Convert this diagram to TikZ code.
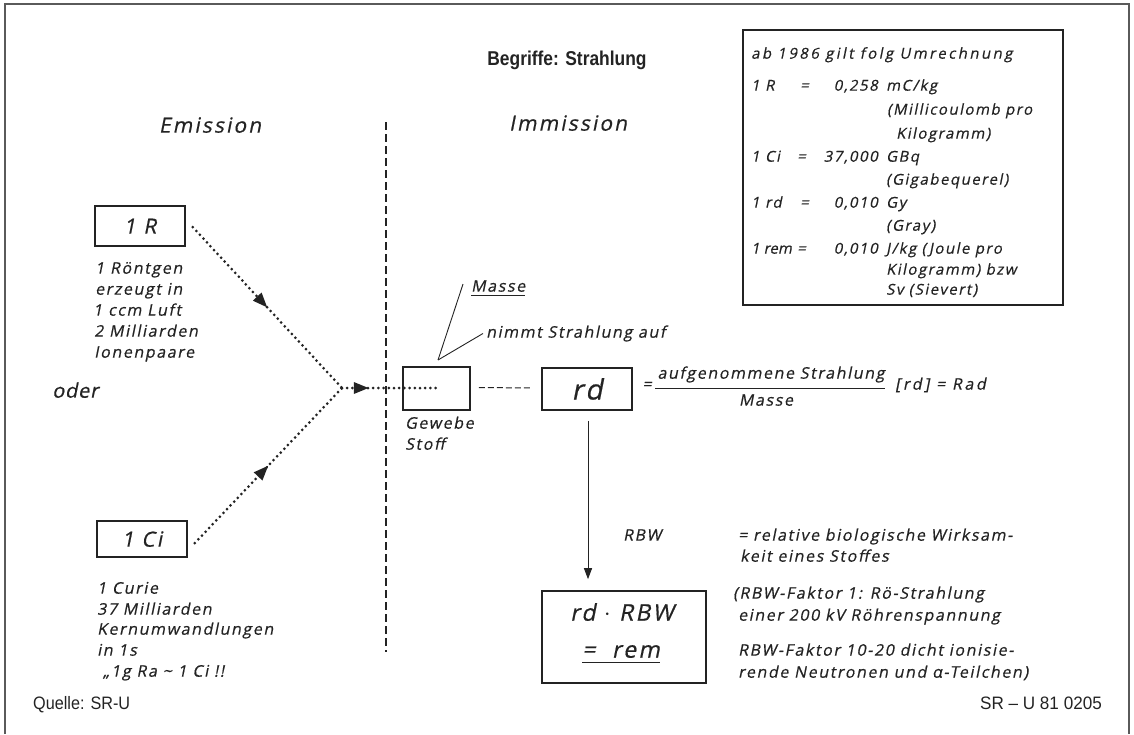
\documentclass[tikz,border=0pt]{standalone}
\usepackage{fontspec}
\setmainfont{Open Sans}
\newfontfamily\stf[LetterSpace=10,AutoFakeSlant=0.2,FakeBold=0.6]{Open Sans}
\newfontfamily\hdf{Liberation Sans}
\usetikzlibrary{arrows.meta,decorations.markings,calc}
\definecolor{ink}{HTML}{232323}
\begin{document}
\begin{tikzpicture}[x=1pt,y=-1pt,
  lbl/.style={font=\stf\itshape\fontsize{16}{16}\selectfont, text=ink, inner sep=0pt, anchor=mid west},
  lblsm/.style={font=\stf\itshape\fontsize{15}{15}\selectfont, text=ink, inner sep=0pt, anchor=mid west},
  lblbig/.style={font=\stf\itshape\fontsize{21}{21}\selectfont, text=ink, inner sep=0pt, anchor=mid},
  framebox/.style={draw=ink, line width=1.6pt, inner sep=0pt},
  dotline/.style={draw=ink, line width=3pt, line cap=round, dash pattern=on 0pt off 5.2pt},
  midarrow/.style={postaction={decorate}, decoration={markings, mark=at position #1 with {\arrow[solid]{Triangle[length=15pt,width=11pt]}}}},
  divider/.style={draw=ink, line width=2pt, dash pattern=on 8pt off 4pt},
  shortdash/.style={draw=ink, line width=1pt, dash pattern=on 6pt off 3pt},
  thinline/.style={draw=ink, line width=0.9pt},
  src/.style={font=\hdf\fontsize{18}{18}\selectfont, text=ink, inner sep=0pt, anchor=mid west},
  ttl/.style={font=\hdf\bfseries\fontsize{20}{20}\selectfont, text=ink, inner sep=0pt}
]
\useasboundingbox (0,0) rectangle (1134,734);
% outer frame
\draw[line width=1.2pt, draw=ink!75] (5,734) -- (5,4) -- (1129,4) -- (1129,734);

% title and headings
\node[ttl] (title) at (567,60) {\scalebox{0.87}[1]{Begriffe: Strahlung}};
\node[lblbig] (emis) at (210,130) {Emission};
\node[lblbig] (immis) at (568,128) {Immission};

% divider
\coordinate (dtop) at (386,122);
\coordinate (dbot) at (386,652);
\draw[divider] (dtop) -- (dbot);

% 1 R
\node[framebox, lblbig, minimum width=90pt, minimum height=40pt] (r) at (140,231) {1 R};
\node[lbl] (r1) at (95,271) {1 Röntgen};
\node[lbl] (r2) at (95,292) {erzeugt in};
\node[lbl] (r3) at (93,313) {1 ccm Luft};
\node[lbl] (r4) at (94,334) {2 Milliarden};
\node[lbl] (r5) at (94,355) {Ionenpaare};
\node[anchor=mid west, inner sep=0pt, text=ink, font=\stf\itshape\fontsize{20}{20}\selectfont] (oder) at (52,395) {\addfontfeature{LetterSpace=4}oder};

% 1 Ci
\node[framebox, lblbig, minimum width=90pt, minimum height=36pt] (ci) at (142,544) {1 Ci};
\node[lbl] (c1) at (97,591) {1 Curie};
\node[lbl] (c2) at (97,612) {37 Milliarden};
\node[lbl] (c3) at (97,632) {Kernumwandlungen};
\node[lbl] (c4) at (97,653) {in 1s};
\node[lbl] (c5) at (103,674) {„1g Ra {\char"7E} 1 Ci !!};

% junction and dotted rays
\coordinate (J) at (342,388);
\coordinate (gin) at (438,388);
\draw[dotline, midarrow=0.5] ($(r.east)+(7,1)$) -- (J);
\draw[dotline, midarrow=0.5] ($(ci.east)+(7,4)$) -- (J);
\draw[dotline, midarrow=0.28] (J) -- (gin);

% Gewebe box
\node[framebox, minimum width=67pt, minimum height=43pt] (gew) at (436.5,388.5) {};
\node[lbl] (gew1) at (405,426) {Gewebe};
\node[lbl] (gew2) at (405,447) {Stoff};
\node[lbl] (masse) at (471,289) {Masse};
\draw[thinline] ($(masse.base west)+(0,4)$) -- ($(masse.base east)+(0,4)$);
\node[lbl] (nimmt) at (486,335) {nimmt Strahlung auf};
\coordinate (gj) at (438,360);
\draw[thinline] (gj) -- ($(masse.west)+(-8,-2)$);
\draw[thinline] (gj) -- ($(nimmt.west)+(-3,0)$);

% rd box
\node[framebox, font=\stf\itshape\fontsize{28}{28}\selectfont, text=ink, minimum width=90pt, minimum height=42pt] (rd) at (587,389) {rd};
\draw[shortdash] (gew.east) ++(8,-1) coordinate (ds) (ds) -- ($(rd.west)+(-10,-1)$);

% formula
\node[lbl, anchor=mid] (eq) at (647,387) {=};
\node[lbl, anchor=mid] (num) at (771,376) {aufgenommene Strahlung};
\node[lbl, anchor=mid] (den) at (766,403) {Masse};
\coordinate (fl1) at (655,388);
\coordinate (fl2) at (885,388);
\draw[thinline] (fl1) -- (fl2);
\node[lbl] (rad) at (895,387) {\addfontfeature{LetterSpace=16}[rd] = Rad};

% conversion box
\node[framebox, minimum width=320pt, minimum height=275pt] (conv) at (903,167.5) {};
\node[lblsm] (k0) at (751,56) {\addfontfeature{LetterSpace=16}ab 1986 gilt folg Umrechnung};
\node[lblsm] (k1a) at (751,88) {1 R};
\node[lblsm] (k1b) at (800,88) {=};
\node[lblsm, anchor=mid east] (k1c) at (878,88) {0,258};
\node[lblsm] (k1d) at (886,88) {mC/kg};
\node[lblsm] (k2) at (887,112) {(Millicoulomb pro};
\node[lblsm] (k3) at (896,136) {Kilogramm)};
\node[lblsm] (k4a) at (751,159) {1 Ci};
\node[lblsm] (k4b) at (797,159) {=};
\node[lblsm, anchor=mid east] (k4c) at (878,159) {37,000};
\node[lblsm] (k4d) at (886,159) {GBq};
\node[lblsm] (k5) at (886,182) {(Gigabequerel)};
\node[lblsm] (k6a) at (751,205) {1 rd};
\node[lblsm] (k6b) at (800,205) {=};
\node[lblsm, anchor=mid east] (k6c) at (878,205) {0,010};
\node[lblsm] (k6d) at (886,205) {Gy};
\node[lblsm] (k7) at (886,228) {(Gray)};
\node[lblsm] (k8a) at (751,251) {\addfontfeature{LetterSpace=0}1 rem};
\node[lblsm] (k8b) at (797,251) {=};
\node[lblsm, anchor=mid east] (k8c) at (878,251) {0,010};
\node[lblsm] (k8d) at (886,251) {J/kg (Joule pro};
\node[lblsm] (k9) at (886,272) {Kilogramm) bzw};
\node[lblsm] (k10) at (886,292) {Sv (Sievert)};

% rem box and arrow
\node[framebox, minimum width=164pt, minimum height=92pt] (rem) at (624,637) {};
\node[lblbig, font=\stf\itshape\fontsize{23}{23}\selectfont] (remt1) at (622,618) {rd $\cdot$ RBW};
\node[lblbig, font=\stf\itshape\fontsize{23}{23}\selectfont] (remt2) at (621,655) {=\ \ rem};
\draw[thinline] ($(remt2.base west)+(0,5)$) -- ($(remt2.base east)+(0,5)$);
\draw[line width=1pt, draw=ink, -{Triangle[length=11pt,width=8pt]}] ($(rd.south)+(1,10)$) -- ($(rd.south |- rem.north)+(1,-11)$);

\node[lbl] (rbw) at (623,538) {RBW};
\node[lbl] (rel1) at (738,538) {= relative biologische Wirksam-};
\node[lbl] (rel2) at (740,559) {keit eines Stoffes};
\node[lbl] (f1) at (733,596) {(RBW-Faktor 1: Rö-Strahlung};
\node[lbl] (f2) at (738,618) {einer 200 kV Röhrenspannung};
\node[lbl] (f3) at (738,653) {RBW-Faktor 10-20 dicht ionisie-};
\node[lbl] (f4) at (738,675) {rende Neutronen und α-Teilchen)};

% sources
\node[src] (quelle) at (33,707) {\scalebox{0.9}[1]{Quelle: SR-U}};
\node[src, anchor=mid east] (srno) at (1102,707) {\scalebox{0.95}[1]{SR – U 81 0205}};
\end{tikzpicture}
\end{document}
